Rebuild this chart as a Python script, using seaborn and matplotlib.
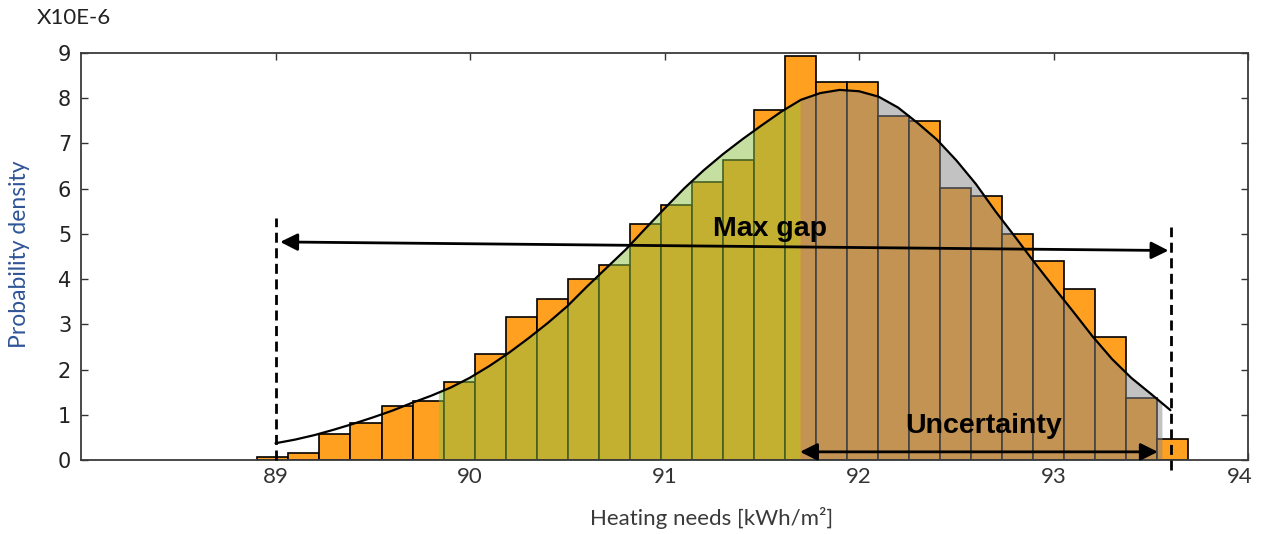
import numpy as np
import pandas as pd
import matplotlib
matplotlib.use("Agg")
import matplotlib.pyplot as plt
import matplotlib.transforms as mtransforms
import seaborn as sns

# Histogram of simulated heating needs (probability density, x1e-6)
bin_start = 88.907
bin_width = 0.15946
bin_heights = [0.06, 0.15, 0.57, 0.81, 1.19, 1.31, 1.73, 2.35, 3.16, 3.55,
               3.99, 4.32, 5.21, 5.63, 6.15, 6.64, 7.74, 8.92, 8.35, 8.35,
               7.61, 7.50, 6.01, 5.83, 5.00, 4.39, 3.79, 2.72, 1.37, 0.46]

# Fitted density curve sampled every 0.1 kWh/m2
curve_x = [89.0, 89.1, 89.2, 89.3, 89.4, 89.5, 89.6, 89.7, 89.8, 89.9,
           90.0, 90.1, 90.2, 90.3, 90.4, 90.5, 90.6, 90.7, 90.8, 90.9,
           91.0, 91.1, 91.2, 91.3, 91.4, 91.5, 91.6, 91.7, 91.8, 91.9,
           92.0, 92.1, 92.2, 92.3, 92.4, 92.5, 92.6, 92.7, 92.8, 92.9,
           93.0, 93.1, 93.2, 93.3, 93.4, 93.5, 93.6]
curve_y = [0.37, 0.45, 0.55, 0.67, 0.80, 0.94, 1.09, 1.26, 1.42, 1.60,
           1.82, 2.08, 2.37, 2.69, 3.03, 3.40, 3.83, 4.24, 4.65, 5.11,
           5.56, 6.00, 6.40, 6.76, 7.09, 7.40, 7.70, 7.96, 8.11, 8.18,
           8.15, 8.03, 7.79, 7.45, 7.08, 6.62, 6.10, 5.50, 4.94, 4.37,
           3.82, 3.28, 2.73, 2.23, 1.81, 1.46, 1.10]

# Ranges shaded under the fitted curve
green_range = (89.837, 91.696)
grey_range = (91.696, 93.556)

# Annotated ranges
max_gap_x = (89.0, 93.605)
max_gap_y = (4.82, 4.63)
uncertainty_x = (91.696, 93.535)
uncertainty_y = 0.18

x_ticks = [89, 90, 91, 92, 93, 94]
x_tick_labels = ["89", "90", "91", "92", "93", "94"]
y_ticks = [0, 1, 2, 3, 4, 5, 6, 7, 8, 9]

sns.set_style("ticks")
plt.rcParams["font.family"] = ["DejaVu Sans"]

fig = plt.figure(figsize=(12.77, 5.34), dpi=100)
ax = fig.add_axes([0.0634, 0.1386, 0.9141, 0.7625])

n_bins = len(bin_heights)
edges = bin_start + bin_width * np.arange(n_bins + 1)
hist_df = pd.DataFrame({"needs": (edges[:-1] + edges[1:]) / 2,
                        "density": bin_heights})
sns.histplot(data=hist_df, x="needs", weights="density", bins=n_bins,
             binrange=(float(edges[0]), float(edges[-1])), stat="count",
             color="#FFA020", edgecolor="black", linewidth=1.2, alpha=1,
             ax=ax, zorder=1)

cx = np.asarray(curve_x)
cy = np.asarray(curve_y)


def span(lo, hi):
    xs = np.concatenate([[lo], cx[(cx > lo) & (cx < hi)], [hi]])
    return xs, np.interp(xs, cx, cy)


gx, gy = span(*green_range)
ax.fill_between(gx, 0, gy, color="#8BC141", alpha=0.5, lw=0, zorder=2)
rx, ry = span(*grey_range)
ax.fill_between(rx, 0, ry, color="#878787", alpha=0.5, lw=0, zorder=2)

sns.lineplot(x=cx, y=cy, color="black", lw=1.6, ax=ax, zorder=3)

# Dashed bounds of the maximum gap
ax.plot([max_gap_x[0]] * 2, [0, 5.35], color="black", lw=2,
        ls=(0, (3.6, 2.0)), zorder=4, clip_on=False)
ax.plot([max_gap_x[1]] * 2, [-0.22, 5.14], color="black", lw=2,
        ls=(0, (3.6, 2.0)), zorder=4, clip_on=False)

arrow = dict(arrowstyle="<|-|>", color="black", lw=2, mutation_scale=26,
             shrinkA=0, shrinkB=0)
ax.annotate("", xy=(max_gap_x[0] + 0.024, max_gap_y[0]),
            xytext=(max_gap_x[1] - 0.015, max_gap_y[1]),
            arrowprops=arrow, zorder=5)
ax.annotate("", xy=(uncertainty_x[0], uncertainty_y),
            xytext=(uncertainty_x[1], uncertainty_y),
            arrowprops=arrow, zorder=5)

ax.text(91.542, 4.95, "Max gap", ha="center", va="baseline", color="black",
        fontsize=20.5, fontweight="bold", family="Liberation Sans", zorder=6)
ax.text(92.638, 0.59, "Uncertainty", ha="center", va="baseline", color="black",
        fontsize=20.5, fontweight="bold", family="Liberation Sans", zorder=6)

ax.set_xlim(88, 94)
ax.set_ylim(0, 9)
ax.set_xticks(x_ticks)
ax.set_xticklabels(x_tick_labels, family="Lato", fontsize=16, color="#333333")
ax.set_yticks(y_ticks)
ax.set_yticklabels([str(v) for v in y_ticks], fontsize=15, color="#222222")
ax.tick_params(direction="in", length=5, width=1, color="#333333",
               top=True, right=True)
ax.tick_params(axis="x", pad=5)
ax.tick_params(axis="y", pad=7)
last = ax.get_xticklabels()[-1]
last.set_transform(last.get_transform() +
                   mtransforms.ScaledTranslation(-9 / 100, 0, fig.dpi_scale_trans))

for s in ax.spines.values():
    s.set_color("#3a3a3a")
    s.set_linewidth(1.3)
    s.set_visible(True)

ax.set_ylabel("Probability density", family="Lato", fontsize=16.5, color="#2F5597")
ax.yaxis.set_label_coords(-0.0525, 0.505)
ax.yaxis.label.set_va("center")
ax.set_xlabel("Heating needs [kWh/m\u00b2]", family="Lato", fontsize=16,
              color="#3a3a3a")
ax.xaxis.set_label_coords(0.54, -0.1425)
ax.xaxis.label.set_va("center")
fig.text(73.5 / 1277, 1 - 18.5 / 534, "X10E-6", ha="center", va="center",
         family="Lato", fontsize=16, color="#222222")

fig.savefig("out.png", dpi=100)
